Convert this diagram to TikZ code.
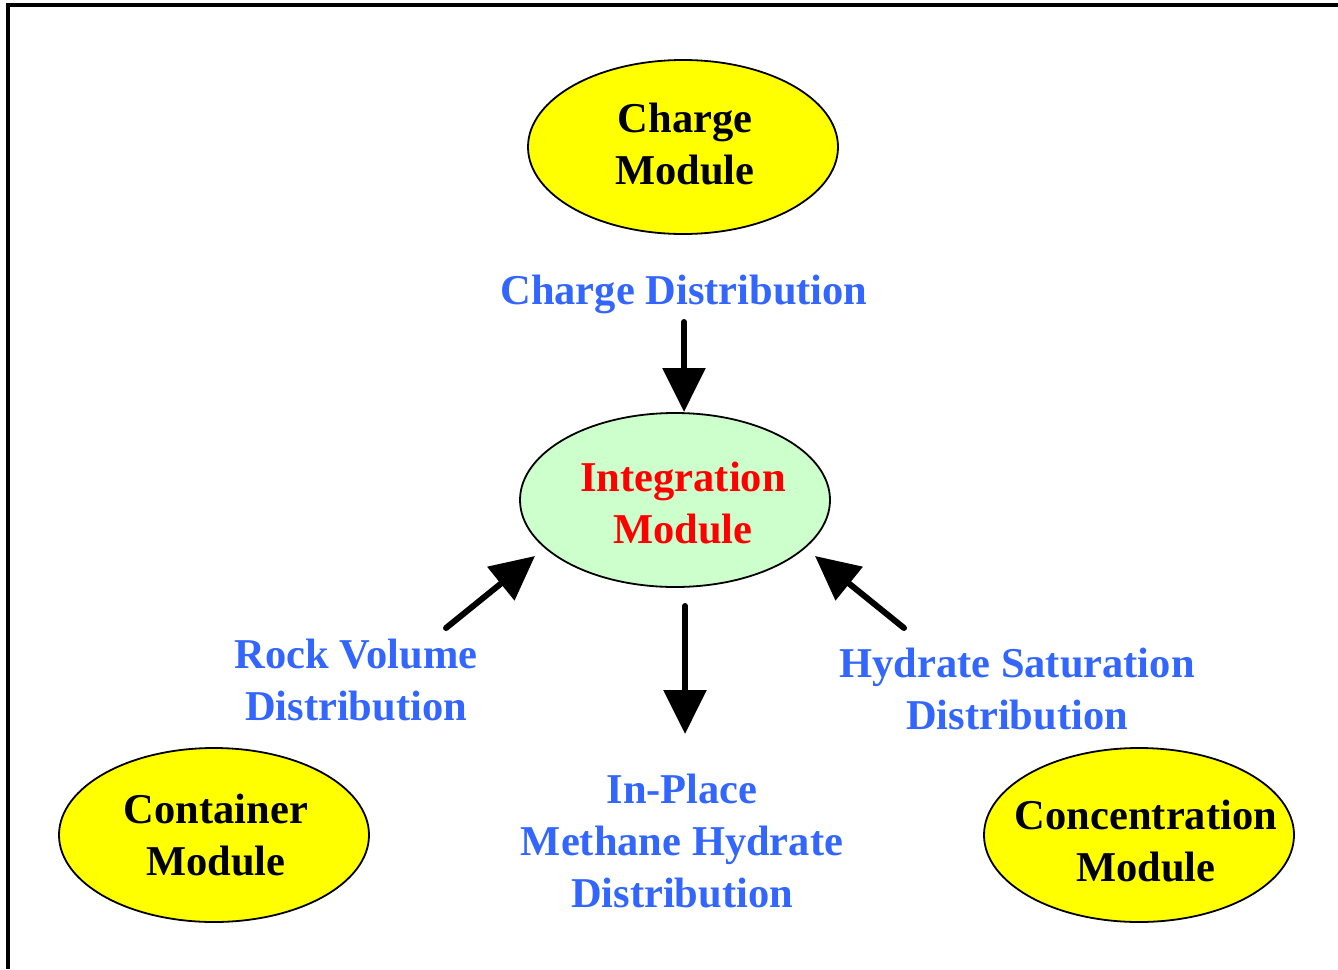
\documentclass[tikz,border=0pt]{standalone}
\usepackage{fontspec}
\setmainfont{Liberation Serif}
\usetikzlibrary{shapes.geometric,arrows.meta}
\definecolor{lblue}{RGB}{51,102,255}
\definecolor{mintgreen}{RGB}{204,255,204}
\definecolor{yel}{RGB}{255,255,0}
\begin{document}
\begin{tikzpicture}[x=1pt,y=-1pt,
  txt/.style={font=\fontsize{42.5}{52}\selectfont\bfseries, align=center, inner sep=0pt},
  module/.style={ellipse, draw=black, line width=1.8pt, minimum width=310pt, minimum height=174pt, inner sep=0pt},
  flow/.style={lblue, txt},
  bigarrow/.style={line width=6pt, line cap=round, -{Triangle[width=42pt,length=44pt]}}
]
\useasboundingbox (0,0) rectangle (1338,969);
\draw[line width=4pt] (8,969) -- (8,5) -- (1338,5);

\node[module, fill=yel] (charge) at (683,147) {};
\node[txt] (chargetxt) at (685,144) {Charge\\Module};
\node[module, fill=mintgreen] (integ) at (675,500) {};
\node[txt, text=red] (integtxt) at (683,503) {Integration\\Module};
\node[module, fill=yel] (container) at (214,835) {};
\node[txt] (containertxt) at (216,835.5) {Container\\Module};
\node[module, fill=yel] (concen) at (1139,835) {};
\node[txt] (concentxt) at (1146,841) {Concentration\\Module};

\node[flow] (chargedist) at (684,294) {Charge Distribution};
\node[flow] (rockdist) at (356,680) {Rock Volume\\Distribution};
\node[flow] (hyddist) at (1017,689.5) {Hydrate Saturation\\Distribution};
\node[flow] (inplace) at (682,841.5) {In-Place\\Methane Hydrate\\Distribution};

\coordinate (a1s) at (684,322);
\coordinate (a1e) at (684,412);
\coordinate (a2s) at (446,628);
\coordinate (a2e) at (535,556);
\coordinate (a3s) at (904,628);
\coordinate (a3e) at (815,556);
\coordinate (a4s) at (685,606);
\coordinate (a4e) at (685,734);

\draw[bigarrow] (a1s) -- (a1e);
\draw[bigarrow] (a2s) -- (a2e);
\draw[bigarrow] (a3s) -- (a3e);
\draw[bigarrow] (a4s) -- (a4e);
\end{tikzpicture}
\end{document}
